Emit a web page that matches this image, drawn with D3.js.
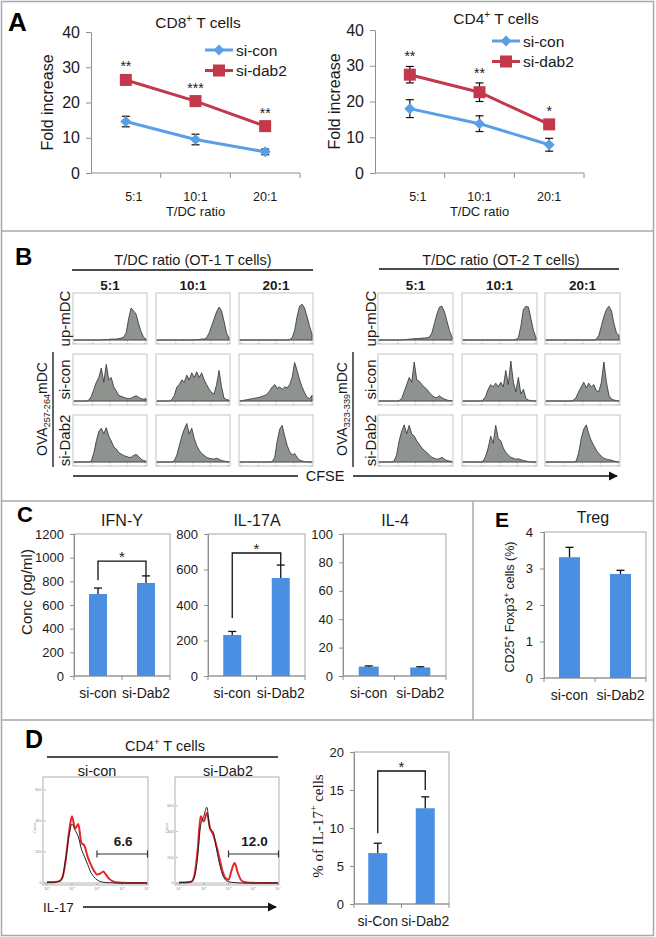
<!DOCTYPE html>
<html><head><meta charset="utf-8">
<script src="https://cdn.jsdelivr.net/npm/d3@7"></script>
<style>body{margin:0;background:#fff}svg{display:block}</style>
</head><body><svg id="c" width="656" height="937"></svg>
<script>
// ---------- DATA ----------
const ratios = ["5:1", "10:1", "20:1"];
const foldTicks = [0, 10, 20, 30, 40];
const cd8SiCon = [14.6, 9.5, 6.0];
const cd8SiConErr = [1.5, 1.5, 0.8];
const cd8SiDab2 = [26.4, 20.4, 13.3];
const cd8SiDab2Err = [1.0, 1.0, 1.0];
const cd8Sig = ["**", "***", "**"];
const cd4SiCon = [18.0, 13.8, 7.9];
const cd4SiConErr = [2.5, 2.2, 1.8];
const cd4SiDab2 = [27.5, 22.6, 13.6];
const cd4SiDab2Err = [2.3, 2.6, 1.0];
const cd4Sig = ["**", "**", "*"];

// CFSE histograms (relative heights, 30 bins each, one per T/DC ratio)
const ot1Up = [
 [0,0,0,0,0,0,0,0,0,0,0,0,0.01,0.01,0.01,0.02,0.02,0.02,0.03,0.04,0.06,0.15,0.45,0.68,0.62,0.55,0.35,0.18,0.06,0.02],
 [0,0,0,0,0,0,0,0,0,0,0,0,0,0,0,0,0.01,0.01,0.02,0.02,0.05,0.15,0.3,0.45,0.6,0.7,0.62,0.4,0.15,0.04],
 [0,0,0,0,0,0,0,0,0,0,0,0,0,0,0,0,0,0,0,0,0.01,0.05,0.2,0.5,0.72,0.76,0.68,0.5,0.3,0.12]];
const ot1SiCon = [
 [0,0,0,0,0,0,0.02,0.1,0.25,0.4,0.5,0.7,0.4,0.78,0.45,0.5,0.3,0.22,0.12,0.1,0.08,0.06,0.05,0.06,0.09,0.11,0.08,0.05,0.04,0.05],
 [0,0,0,0,0,0,0.03,0.12,0.3,0.35,0.45,0.4,0.55,0.45,0.6,0.5,0.62,0.5,0.6,0.45,0.35,0.25,0.18,0.15,0.35,0.65,0.3,0.06,0.03,0.02],
 [0,0.01,0.02,0.03,0.04,0.05,0.06,0.07,0.08,0.1,0.12,0.15,0.22,0.3,0.35,0.27,0.3,0.25,0.3,0.28,0.35,0.5,0.82,0.65,0.45,0.3,0.18,0.08,0.05,0.12]];
const ot1SiDab2 = [
 [0,0,0,0,0,0,0,0.02,0.2,0.45,0.65,0.72,0.6,0.73,0.55,0.45,0.32,0.28,0.2,0.17,0.14,0.12,0.1,0.1,0.14,0.16,0.12,0.06,0.03,0.02],
 [0,0,0,0,0,0,0,0.03,0.15,0.35,0.55,0.7,0.82,0.6,0.72,0.5,0.35,0.25,0.18,0.14,0.1,0.08,0.07,0.06,0.08,0.06,0.03,0.02,0.01,0.01],
 [0,0,0,0,0,0,0,0,0,0,0,0,0,0.01,0.1,0.45,0.7,0.78,0.55,0.35,0.22,0.15,0.18,0.1,0.04,0.02,0.01,0,0,0]];
const ot2Up = [
 [0,0,0,0,0,0,0,0,0,0,0.01,0.01,0.02,0.02,0.03,0.03,0.03,0.04,0.04,0.05,0.06,0.15,0.35,0.55,0.7,0.72,0.6,0.4,0.2,0.06],
 [0,0,0,0,0,0,0,0,0,0,0,0,0,0,0,0,0,0,0,0,0,0.01,0.05,0.3,0.65,0.72,0.7,0.45,0.2,0.05],
 [0,0,0,0,0,0,0,0,0,0,0,0,0,0,0,0,0,0,0,0,0.02,0.1,0.3,0.5,0.65,0.72,0.62,0.35,0.15,0.1]];
const ot2SiCon = [
 [0,0,0,0,0,0,0,0,0.01,0.05,0.2,0.35,0.5,0.4,0.83,0.45,0.42,0.35,0.3,0.25,0.18,0.12,0.08,0.07,0.11,0.07,0.04,0.02,0.01,0.01],
 [0,0,0,0,0,0,0,0,0.02,0.1,0.25,0.35,0.3,0.38,0.3,0.4,0.3,0.65,0.35,0.85,0.4,0.2,0.5,0.15,0.25,0.05,0.02,0.01,0,0],
 [0,0,0,0,0,0,0,0,0,0,0,0.02,0.08,0.2,0.3,0.4,0.28,0.38,0.3,0.35,0.22,0.2,0.4,0.83,0.4,0.12,0.04,0.02,0.01,0]];
const ot2SiDab2 = [
 [0,0,0,0,0,0,0.02,0.15,0.45,0.65,0.79,0.6,0.78,0.6,0.55,0.45,0.38,0.3,0.25,0.2,0.15,0.1,0.08,0.06,0.07,0.1,0.06,0.03,0.02,0.01],
 [0,0,0,0,0,0,0,0,0.02,0.12,0.3,0.55,0.4,0.78,0.5,0.45,0.3,0.2,0.15,0.1,0.08,0.06,0.07,0.05,0.03,0.02,0.01,0,0,0],
 [0,0,0,0,0,0,0,0,0,0,0,0,0.02,0.2,0.5,0.7,0.79,0.6,0.45,0.35,0.25,0.18,0.12,0.08,0.06,0.05,0.04,0.02,0.01,0]];

// Panel C / E / D bar data
const groups = ["si-con", "si-Dab2"];
const groupsD = ["si-Con", "si-Dab2"];
const ifnVals = [693, 786], ifnErr = [50, 60], ifnTicks = [0, 200, 400, 600, 800, 1000, 1200];
const il17Vals = [231, 552], il17Err = [20, 73], il17Ticks = [0, 200, 400, 600, 800];
const il4Vals = [6.6, 6.0], il4Err = [0.5, 0.5], il4Ticks = [0, 20, 40, 60, 80, 100];
const tregVals = [3.31, 2.85], tregErr = [0.27, 0.1], tregTicks = [0, 1, 2, 3, 4];
const il17PctVals = [6.7, 12.6], il17PctErr = [1.3, 1.5], il17PctTicks = [0, 5, 10, 15, 20];

// IL-17 flow histograms (log10 fluorescence, counts)
const il17Log = [0,0.25,0.5,0.625,0.75,0.875,1,1.125,1.25,1.375,1.5,1.625,1.75,1.875,2,2.125,2.25,2.375,2.5,2.625,2.75,3,3.5,4];
const flowConRed   = [5,5,12,40,150,320,430,350,380,260,240,170,120,80,55,60,75,50,25,12,5,2,0,0];
const flowConBlack = [5,5,12,40,160,300,380,340,300,220,170,120,70,40,20,10,5,3,2,1,0,0,0,0];
const flowDabRed   = [3,4,10,60,250,520,480,545,430,380,300,200,100,40,25,100,155,80,25,8,3,1,0,0];
const flowDabBlack = [3,4,10,50,200,450,520,590,420,400,280,160,70,25,10,5,3,1,0,0,0,0,0,0];
const flowCountTicks = [0, 200, 400, 600];
const flowLogTicks = [1, 10, 100, 1000, 10000];
const gateLabels = ["6.6", "12.0"];

// ---------- DRAWING ----------
const FONT = "'Liberation Sans', Arial, sans-serif";
const AX = "#8f8f8f";
const BLUE_LINE = "#5a9fe6", RED = "#c3384b", BAR = "#4b8fe2";
const svg = d3.select("#c").attr("font-family", FONT);

const defs = svg.append("defs");
defs.append("marker").attr("id", "arr").attr("viewBox", "0 0 10 10").attr("refX", 9).attr("refY", 5)
  .attr("markerWidth", 7).attr("markerHeight", 7).attr("orient", "auto")
  .append("path").attr("d", "M0,0L10,5L0,10Z").attr("fill", "#111");

function rich(g, x, y, parts, attrs) {
  const t = g.append("text").attr("x", x).attr("y", y);
  Object.entries(attrs).forEach(([k, v]) => t.attr(k, v));
  const fs = attrs["font-size"];
  let shift = 0;
  parts.forEach(p => {
    const ts = t.append("tspan").text(p.t);
    const target = p.sup ? -fs * 0.4 : p.sub ? fs * 0.25 : 0;
    if (target !== shift) { ts.attr("dy", target - shift); shift = target; }
    if (p.sup || p.sub) ts.attr("font-size", fs * 0.65);
  });
  return t;
}
function txt(g, x, y, s, fs, anchor = "middle", extra = {}) {
  const t = g.append("text").attr("x", x).attr("y", y).attr("font-size", fs)
    .attr("text-anchor", anchor).attr("fill", "#1a1a1a").text(s);
  Object.entries(extra).forEach(([k, v]) => t.attr(k, v));
  return t;
}
function vtext(g, cx, cy, parts, fs, extra = {}) {
  const gg = g.append("g").attr("transform", `translate(${cx},${cy}) rotate(-90)`);
  return rich(gg, 0, fs * 0.35, parts, Object.assign({"font-size": fs, "text-anchor": "middle", fill: "#1a1a1a"}, extra));
}
function line(g, x1, y1, x2, y2, stroke = "#111", w = 1) {
  return g.append("line").attr("x1", x1).attr("y1", y1).attr("x2", x2).attr("y2", y2)
    .attr("stroke", stroke).attr("stroke-width", w);
}
function styleAxis(sel, fs) {
  sel.attr("font-family", FONT).attr("font-size", fs);
  sel.select(".domain").attr("stroke", AX);
  sel.selectAll(".tick line").attr("stroke", AX);
  sel.selectAll(".tick text").attr("fill", "#1a1a1a");
}

// frame + separators
const frame = svg.append("g").attr("stroke", "#a8a8a8").attr("stroke-width", 1.5).attr("fill", "none");
frame.append("rect").attr("x", 1.5).attr("y", 1.5).attr("width", 652).attr("height", 934);
line(frame, 1.5, 231, 653.5, 231, "#a8a8a8", 1.5);
line(frame, 1.5, 501, 653.5, 501, "#a8a8a8", 1.5);
line(frame, 1.5, 720, 653.5, 720, "#a8a8a8", 1.5);
line(frame, 473, 501, 473, 720, "#a8a8a8", 1.5);

// panel letters
[["A", 8, 31, 26], ["B", 15, 265, 24], ["C", 17, 522, 22], ["D", 25, 748, 25], ["E", 495, 527, 21]]
  .forEach(([s, x, y, fs]) => txt(svg, x, y, s, fs, "start", {"font-weight": "bold", fill: "#000"}));

// ---------- Panel A ----------
function foldChart(c) {
  const g = svg.append("g");
  const x = d3.scaleBand().domain(ratios).range([c.x0, c.x1]);
  const y = d3.scaleLinear().domain([0, 40]).range([c.yb, c.yt]);
  const cx = d => x(d) + x.bandwidth() / 2;
  const ya = g.append("g").attr("transform", `translate(${c.x0},0)`)
    .call(d3.axisLeft(y).tickValues(foldTicks).tickSize(5).tickSizeOuter(0).tickPadding(6));
  styleAxis(ya, 16);
  line(g, c.x0, c.yb, c.x1, c.yb, AX);
  ratios.forEach(r => line(g, x(r) + x.bandwidth(), c.yb, x(r) + x.bandwidth(), c.yb + 5, AX));
  ratios.forEach(r => txt(g, cx(r) + (r === "5:1" ? 8 : 0), c.yb + 28, r, 12.5));
  txt(g, cx("10:1"), c.yb + 43, "T/DC  ratio", 13);
  rich(g, c.titleX, c.titleY, [{t: "CD" + c.cd}, {t: "+", sup: true}, {t: " T cells"}],
    {"font-size": 15.5, "text-anchor": "middle", fill: "#1a1a1a"});
  vtext(g, c.ylabX, (c.yt + c.yb) / 2, [{t: "Fold increase"}], 16);
  const series = [
    {v: c.con, e: c.conErr, color: BLUE_LINE, shape: "diamond"},
    {v: c.dab, e: c.dabErr, color: RED, shape: "square"}];
  const marker = (gg, shape, color, px, py) => {
    if (shape === "square") gg.append("rect").attr("x", px - 6).attr("y", py - 6).attr("width", 12).attr("height", 12).attr("fill", color);
    else gg.append("path").attr("d", `M${px},${py - 5.5}L${px + 5.5},${py}L${px},${py + 5.5}L${px - 5.5},${py}Z`).attr("fill", color);
  };
  series.forEach(s => {
    g.append("path").datum(ratios).attr("fill", "none").attr("stroke", s.color).attr("stroke-width", 3)
      .attr("d", d3.line().x(cx).y((d, i) => y(s.v[i])));
  });
  series.forEach(s => {
    ratios.forEach((r, i) => {
      const px = cx(r);
      line(g, px, y(s.v[i] - s.e[i]), px, y(s.v[i] + s.e[i]), "#111", 1.2);
      line(g, px - 4, y(s.v[i] + s.e[i]), px + 4, y(s.v[i] + s.e[i]), "#111", 1.2);
      line(g, px - 4, y(s.v[i] - s.e[i]), px + 4, y(s.v[i] - s.e[i]), "#111", 1.2);
      marker(g, s.shape, s.color, px, y(s.v[i]));
    });
  });
  ratios.forEach((r, i) => txt(g, cx(r), y(c.dab[i] + c.dabErr[i]) - 5, c.sig[i], 14));
  // legend
  [["si-con", BLUE_LINE, "diamond", 0], ["si-dab2", RED, "square", 1]].forEach(([lab, col, shp, k]) => {
    const ly = c.legY + k * 20.5;
    line(g, c.legX, ly, c.legX + 28, ly, col, 3);
    marker(g, shp, col, c.legX + 14, ly);
    txt(g, c.legX + 31, ly + 5.5, lab, 15.5, "start");
  });
}
foldChart({x0: 91, x1: 300, yt: 32, yb: 173, cd: "8", titleX: 198, titleY: 28, ylabX: 47,
  con: cd8SiCon, conErr: cd8SiConErr, dab: cd8SiDab2, dabErr: cd8SiDab2Err, sig: cd8Sig, legX: 205, legY: 50});
foldChart({x0: 375, x1: 584, yt: 30, yb: 173, cd: "4", titleX: 496, titleY: 24, ylabX: 334,
  con: cd4SiCon, conErr: cd4SiConErr, dab: cd4SiDab2, dabErr: cd4SiDab2Err, sig: cd4Sig, legX: 492, legY: 41});

// ---------- Panel B ----------
function histPanel(c) {
  const g = svg.append("g");
  const rowTops = [293, 354, 415], h = 51;
  const rowsData = [c.up, c.siCon, c.siDab2];
  txt(g, c.titleX, 265, c.title, 14.5);
  line(g, c.ulX0, c.ulY, c.ulX1, c.ulY, "#111", 1.3);
  c.cols.forEach((cx0, j) => txt(g, cx0 + c.w / 2, 290, ratios[j], 13.5, "middle", {"font-weight": "bold"}));
  rowsData.forEach((rowArr, r) => {
    const top = rowTops[r], base = top + h - 4;
    rowArr.forEach((vals, j) => {
      const x0 = c.cols[j];
      g.append("rect").attr("x", x0).attr("y", top).attr("width", c.w).attr("height", h)
        .attr("fill", "none").attr("stroke", "#c4c4c4").attr("stroke-width", 1);
      const xs = d3.scaleLinear().domain([0, vals.length - 1]).range([x0 + 1, x0 + c.w - 1]);
      const ys = d3.scaleLinear().domain([0, 1]).range([base, top]);
      g.append("path").datum(vals).attr("fill", "#8e9390").attr("stroke", "#2e2e2e").attr("stroke-width", 0.8)
        .attr("d", d3.area().x((d, i) => xs(i)).y0(base).y1(d => ys(d)));
      line(g, x0, base, x0 + c.w, base, "#777", 0.6);
      const tx = d3.scaleLinear().domain([0, 4]).range([x0 + 2, x0 + c.w - 2]);
      [0, 1, 2, 3, 4].forEach(k => {
        line(g, tx(k), base, tx(k), base + 1.5, "#777", 0.6);
        txt(g, tx(k), base + 3.6, "10", 2.4, "middle", {fill: "#999"});
      });
    });
  });
  const rowLabels = ["up-mDC", "si-con", "si-Dab2"];
  rowLabels.forEach((s, r) => vtext(g, c.labelX, rowTops[r] + h / 2, [{t: s}], 15));
  line(g, c.vlineX, 352, c.vlineX, 467, "#111", 1.3);
  vtext(g, c.groupX, 409, [{t: "OVA"}, {t: c.sub, sub: true}, {t: "mDC"}], 14);
}
histPanel({cols: [73, 156, 239], w: 74, title: "T/DC  ratio (OT-1  T cells)", titleX: 193, ulX0: 72, ulX1: 313, ulY: 270,
  labelX: 65, groupX: 42, vlineX: 53, sub: "257-264", up: ot1Up, siCon: ot1SiCon, siDab2: ot1SiDab2});
histPanel({cols: [378, 462, 545], w: 75, title: "T/DC  ratio (OT-2  T cells)", titleX: 501, ulX0: 379, ulX1: 619, ulY: 269,
  labelX: 371, groupX: 342, vlineX: 353, sub: "323-339", up: ot2Up, siCon: ot2SiCon, siDab2: ot2SiDab2});
// CFSE axis
line(svg, 73, 476, 298, 476, "#111", 1.3);
txt(svg, 325, 481, "CFSE", 14.5);
line(svg, 353, 476, 617, 476, "#111", 1.3).attr("marker-end", "url(#arr)");

// ---------- Bar charts (C, E, D right) ----------
function barChart(c) {
  const g = svg.append("g");
  const x = d3.scaleBand().domain(c.cats).range([c.x0, c.x1]);
  const y = d3.scaleLinear().domain([0, c.max]).range([c.yb, c.yt]);
  const cx = d => x(d) + x.bandwidth() / 2;
  g.append("rect").attr("x", c.x0).attr("y", c.yt).attr("width", c.x1 - c.x0).attr("height", c.yb - c.yt)
    .attr("fill", "none").attr("stroke", "#a6a6a6").attr("stroke-width", 1);
  const ya = g.append("g").attr("transform", `translate(${c.x0},0)`)
    .call(d3.axisLeft(y).tickValues(c.ticks).tickFormat(d3.format("d")).tickSize(4).tickSizeOuter(0).tickPadding(c.tickPad || 6));
  styleAxis(ya, c.tickFs || 13);
  line(g, c.x0, c.yb, c.x1, c.yb, AX);
  [c.x0, ...c.cats.map(d => x(d) + x.bandwidth())].forEach(xx => line(g, xx, c.yb, xx, c.yb + 4, AX));
  c.cats.forEach(d => txt(g, cx(d), c.yb + 22, d, 14));
  c.cats.forEach((d, i) => {
    g.append("rect").attr("x", cx(d) - c.barW / 2).attr("y", y(c.vals[i])).attr("width", c.barW)
      .attr("height", y(0) - y(c.vals[i])).attr("fill", BAR);
    const yt = y(c.vals[i] + c.errs[i]);
    line(g, cx(d), y(c.vals[i]), cx(d), yt, "#111", 1.3);
    line(g, cx(d) - 4, yt, cx(d) + 4, yt, "#111", 1.3);
  });
  if (c.bracket) {
    const b = c.bracket, xl = cx(c.cats[0]), xr = cx(c.cats[1]);
    g.append("path").attr("fill", "none").attr("stroke", "#111").attr("stroke-width", 1.3)
      .attr("d", `M${xl},${y(b.left)}V${y(b.top)}H${xr}V${y(b.right)}`);
    txt(g, (xl + xr) / 2, y(b.top) + 1, "*", 15);
  }
  if (c.title) txt(g, c.titleX, c.titleY, c.title, 16);
}
barChart({cats: groups, x0: 74, x1: 170, yt: 534, yb: 676, max: 1200, ticks: ifnTicks, vals: ifnVals, errs: ifnErr,
  barW: 18, bracket: {top: 970, left: 810, right: 840}, title: "IFN-Y", titleX: 122, titleY: 526});
barChart({cats: groups, x0: 208, x1: 305, yt: 534, yb: 676, max: 800, ticks: il17Ticks, vals: il17Vals, errs: il17Err,
  barW: 18, bracket: {top: 693, left: 327, right: 625}, title: "IL-17A", titleX: 257, titleY: 526});
barChart({cats: groups, x0: 343, x1: 446, yt: 534, yb: 676, max: 100, ticks: il4Ticks, vals: il4Vals, errs: il4Err,
  barW: 20, title: "IL-4", titleX: 395, titleY: 526});
vtext(svg, 27, 592, [{t: "Conc (pg/ml)"}], 15);
barChart({cats: groups, x0: 544, x1: 646, yt: 532, yb: 678, max: 4, ticks: tregTicks, vals: tregVals, errs: tregErr,
  barW: 21, title: "Treg", titleX: 593, titleY: 523, tickPad: 7});
vtext(svg, 510, 607, [{t: "CD25"}, {t: "+", sup: true}, {t: "  Foxp3"}, {t: "+", sup: true}, {t: "  cells (%)"}], 12.5);
barChart({cats: groupsD, x0: 354, x1: 449, yt: 752, yb: 904, max: 20, ticks: il17PctTicks, vals: il17PctVals, errs: il17PctErr,
  barW: 19, bracket: {top: 17.5, left: 9.3, right: 15.0}});
vtext(svg, 318, 826, [{t: "% of IL-17"}, {t: "+", sup: true}, {t: " cells"}], 15, {"font-family": "'Liberation Serif', 'Times New Roman', serif"});

// ---------- Panel D flow ----------
const dg = svg.append("g");
rich(dg, 165, 751, [{t: "CD4"}, {t: "+", sup: true}, {t: " T cells"}], {"font-size": 14.5, "text-anchor": "middle", fill: "#1a1a1a"});
line(dg, 47, 757, 278, 757, "#111", 1.3);
txt(dg, 97, 776, "si-con", 14.5);
txt(dg, 228, 776, "si-Dab2", 14.5);
function flow(c) {
  const top = 777, yb = 883;
  dg.append("rect").attr("x", c.x0).attr("y", top).attr("width", c.x1 - c.x0).attr("height", 108)
    .attr("fill", "none").attr("stroke", "#b0b0b0");
  const x = d3.scaleLog().domain([1, 1e4]).range([c.x0 + 4, c.x1 - 1]);
  const y = d3.scaleLinear().domain([0, c.ymax]).range([yb, top]);
  flowCountTicks.forEach(t => {
    line(dg, c.x0 + 1, y(t), c.x0 + 3, y(t), "#888", 0.6);
    txt(dg, c.x0 - 1.5, y(t) + 1.3, String(t), 3.8, "end", {fill: "#888"});
  });
  flowLogTicks.forEach((t, k) => {
    line(dg, x(t), yb, x(t), yb + 2, "#888", 0.6);
    rich(dg, x(t), yb + 6.5, [{t: "10"}, {t: String(k), sup: true}], {"font-size": 3.8, "text-anchor": "middle", fill: "#888"});
  });
  line(dg, c.x0 + 1, yb, c.x1, yb, "#888", 0.6);
  vtext(dg, c.x0 - 8, 828, [{t: "Count"}], 3.8, {fill: "#888"});
  const ln = d3.line().x((d, i) => x(Math.pow(10, il17Log[i]))).y(d => y(d)).curve(d3.curveMonotoneX);
  dg.append("path").datum(c.red).attr("fill", "none").attr("stroke", "#e5262b").attr("stroke-width", 2).attr("d", ln);
  dg.append("path").datum(c.black).attr("fill", "none").attr("stroke", "#222").attr("stroke-width", 1).attr("d", ln);
  const gy = 854, gx0 = x(100), gx1 = c.x1 - 0.5;
  line(dg, gx0, gy, gx1, gy, "#333", 1.2);
  line(dg, gx0, gy - 3.5, gx0, gy + 3.5, "#333", 1.2);
  line(dg, gx1, gy - 3.5, gx1, gy + 3.5, "#333", 1.2);
  txt(dg, (gx0 + gx1) / 2 + 1, gy - 8, c.gate, 13.5, "middle", {"font-weight": "bold"});
}
flow({x0: 43, x1: 148, ymax: 684, red: flowConRed, black: flowConBlack, gate: gateLabels[0]});
flow({x0: 175, x1: 279, ymax: 826, red: flowDabRed, black: flowDabBlack, gate: gateLabels[1]});
txt(dg, 43, 912, "IL-17", 13.5, "start");
line(dg, 83, 907, 276, 907, "#111", 1.3).attr("marker-end", "url(#arr)");
</script></body></html>
